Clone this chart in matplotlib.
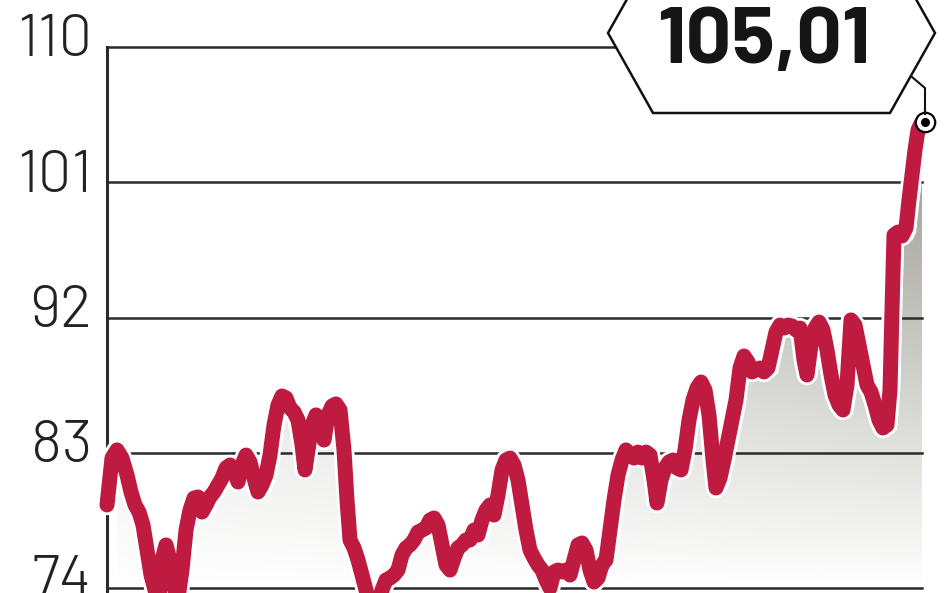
import numpy as np
import matplotlib
matplotlib.use("Agg")
import matplotlib.pyplot as plt
import matplotlib.patheffects as pe
from matplotlib.patches import Polygon
from matplotlib.lines import Line2D

# ---- data ----
t = [0, 5, 10, 15, 20, 24, 28, 32, 36, 40, 44, 48, 52, 55, 59, 63, 67, 71, 75, 79,
     83, 87, 91, 95, 99, 103, 107, 111, 115, 119, 123, 127, 131, 135, 139, 143, 147, 151, 155, 159,
     163, 167, 171, 175, 179, 183, 187, 191, 195, 198, 201, 205, 209, 213, 217, 221, 225, 229, 233, 237,
     240, 243, 247, 251, 255, 259, 263, 267, 271, 275, 279, 283, 287, 291, 295, 299, 303, 307, 311, 315,
     319, 323, 327, 331, 335, 339, 343, 347, 351, 355, 359, 363, 367, 371, 375, 379, 383, 387, 391, 395,
     399, 403, 407, 411, 415, 419, 423, 427, 431, 435, 439, 443, 447, 451, 455, 459, 463, 467, 471, 475,
     479, 483, 487, 491, 495, 499, 503, 507, 511, 515, 519, 523, 527, 531, 535, 539, 543, 547, 550, 554,
     558, 562, 566, 570, 574, 578, 582, 586, 590, 594, 598, 602, 606, 609, 613, 617, 621, 625, 629, 633,
     637, 641, 645, 649, 653, 657, 661, 665, 669, 673, 677, 681, 685, 689, 693, 697, 700, 704, 708, 712,
     716, 720, 724, 728, 732, 736, 740, 744, 748, 752, 756, 760, 764, 768, 772, 776, 780, 783, 785, 787,
     791, 795, 799, 802, 805, 808, 811, 814, 818]
values = [79.53, 82.65, 83.19, 82.65, 81.52, 80.39, 79.53, 79.06, 78.20, 76.53, 74.87, 73.87, 73.34, 75.87, 76.87, 75.87, 74.00, 73.34, 75.20, 77.86,
          79.19, 79.99, 80.06, 79.06, 79.53, 80.06, 80.39, 80.86, 81.32, 81.99, 82.19, 81.86, 81.06, 82.19, 82.85, 82.39, 81.32, 80.39, 80.86, 81.52,
          82.85, 84.85, 86.18, 86.78, 86.65, 85.98, 85.72, 85.18, 83.52, 81.86, 83.19, 84.85, 85.52, 85.18, 83.85, 85.52, 86.11, 86.25, 85.85, 83.19,
          79.86, 77.20, 76.67, 75.87, 74.87, 73.87, 72.87, 72.41, 72.87, 73.87, 74.54, 74.67, 74.87, 75.20, 76.20, 76.67, 76.87, 77.20, 77.73, 77.86,
          78.00, 78.53, 78.66, 78.20, 76.87, 75.54, 75.20, 76.00, 76.67, 76.87, 77.20, 77.20, 77.86, 77.53, 78.53, 79.19, 79.53, 78.86, 80.19, 81.86,
          82.52, 82.65, 82.19, 81.19, 79.53, 77.86, 76.53, 76.00, 75.54, 75.20, 74.54, 74.00, 75.07, 75.20, 75.07, 75.20, 74.87, 75.87, 76.87, 77.00,
          76.53, 75.20, 74.40, 74.67, 75.54, 75.87, 77.86, 79.86, 81.52, 82.52, 83.19, 82.85, 82.65, 83.05, 82.65, 83.05, 82.85, 81.19, 79.66, 81.19,
          81.99, 82.39, 82.52, 81.99, 81.86, 83.19, 85.18, 86.51, 87.31, 87.71, 87.18, 85.52, 82.52, 80.66, 81.32, 82.52, 83.85, 85.18, 86.51, 88.64,
          89.44, 89.04, 88.38, 88.51, 88.64, 88.38, 88.64, 89.84, 91.04, 91.50, 91.30, 91.50, 91.44, 91.17, 91.30, 89.17, 88.18, 90.17, 91.30, 91.70,
          91.17, 89.84, 88.18, 86.85, 86.18, 85.85, 87.51, 91.84, 91.50, 90.17, 88.84, 87.51, 87.05, 86.18, 85.18, 84.65, 84.85, 87.18, 92.50, 97.49,
          97.69, 97.43, 97.96, 99.82, 101.48, 103.15, 104.48, 104.90, 105.01]
yticks = [74, 83, 92, 101, 110]
ytick_labels = ["74", "83", "92", "101", "110"]
last_label = "105,01"

# ---- style ----
W, H = 948, 593
RED = "#bf1a40"
GRID = "#2a2a2a"
FONT = ["Barlow", "DejaVu Sans"]

fig = plt.figure(figsize=(W / 100, H / 100), dpi=100)
fig.patch.set_facecolor("white")
ax_left, ax_right, ax_top = 107, 922, 47
ax = fig.add_axes([ax_left / W, 0, (ax_right - ax_left) / W, 1 - ax_top / H])
ymin = 110 - (H - ax_top) / 15.03
XMAX = ax_right - ax_left

ax.set_facecolor("white")
for s in ["top", "right", "bottom"]:
    ax.spines[s].set_visible(False)
ax.spines["left"].set_linewidth(2.2)
ax.spines["left"].set_color(GRID)
ax.spines["left"].set_zorder(2)
ax.set_xticks([])
ax.set_yticks([])

# gridlines
for v in yticks:
    ax.axhline(v, color=GRID, lw=1.8, zorder=2, xmin=0, xmax=1, clip_on=False)

# gradient shadow fill under (shifted) curve
ta = np.asarray(t, float)
va = np.asarray(values, float)
ts = ta + 10
vs = va - 0.33
poly = ax.fill_between(ts, vs, ymin - 5, color="none", lw=0, zorder=1)
nr, nc = 300, 400
yy = np.linspace(0, 1, nr)[:, None]
xx = np.linspace(0, 1, nc)[None, :]
py = ax_top + yy * (H - ax_top)
yf = np.clip(1 - (py - 150) / 440, 0, 1)
hf = 0.4 + 0.6 * xx
tt = yf * hf
grey = np.array([0.62, 0.62, 0.58])
rgb = (1 - tt[..., None]) * 1.0 + tt[..., None] * grey
img = ax.imshow(rgb, extent=[0, XMAX, ymin, 110], aspect="auto", origin="upper", zorder=1)
img.set_clip_path(poly.get_paths()[0], transform=ax.transData)

# main line with white halo
ln, = ax.plot(t, values, color=RED, lw=10.8, solid_joinstyle="round", solid_capstyle="round",
              zorder=4, clip_on=False)
ln.set_path_effects([pe.Stroke(linewidth=14.8, foreground="white"), pe.Normal()])

ax.set_xlim(0, XMAX)
ax.set_ylim(ymin, 110)

# end marker
ax.plot([t[-1]], [values[-1]], marker="o", ms=14, mfc="white", mec="black", mew=1.6,
        zorder=6, clip_on=False)
ax.plot([t[-1]], [values[-1]], marker="o", ms=5.5, mfc="black", mec="black",
        zorder=7, clip_on=False)

# y labels
ytr = ax.get_yaxis_transform()
for v, lab in zip(yticks, ytick_labels):
    ax.text(-15 / XMAX, v + 0.38, lab, transform=ytr, ha="right", va="center",
            fontsize=43, family=FONT, fontweight=300, color="#222222", clip_on=False)

# hexagon callout (figure pixel coords)
def fp(x, y):
    return (x / W, 1 - y / H)

hexpts = [fp(608, 33), fp(653, 113), fp(890, 113), fp(935, 33), fp(890, -47), fp(653, -47)]
hexagon = Polygon(hexpts, closed=True, facecolor="white", edgecolor="#111111", lw=1.8,
                  transform=fig.transFigure, zorder=8)
fig.patches.append(hexagon)
conn = Line2D([912 / W, 925 / W, 925 / W], [1 - 77 / H, 1 - 88 / H, 1 - 114 / H],
              transform=fig.transFigure, color="#111111", lw=1.5, zorder=8)
fig.lines.append(conn)
fig.text(764 / W, 1 - 63 / H, last_label, ha="center", va="baseline", fontsize=58,
         fontweight="bold", family=FONT, color="#151515", zorder=9)

fig.savefig("out.png", dpi=100, facecolor="white")
